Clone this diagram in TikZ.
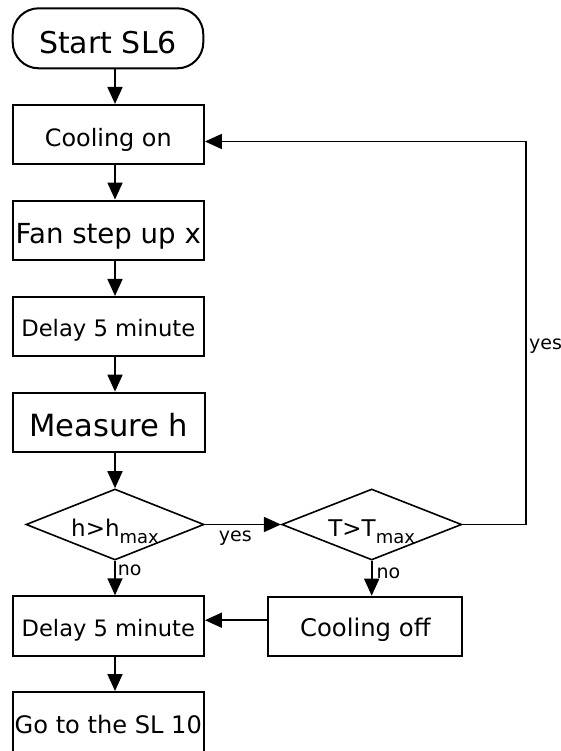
\documentclass[tikz,border=0pt]{standalone}
\usepackage{fontspec}
\setmainfont{DejaVu Sans}
\usetikzlibrary{shapes.geometric,arrows.meta,positioning}

\tikzset{
  fsz/.style={font=\fontsize{#1}{#1}\selectfont},
  flow/.style={line width=1.8pt,-{Triangle[length=17pt,width=15pt]}},
  box/.style={draw,line width=2pt,minimum width=191.3pt,minimum height=59.5pt,inner sep=0pt,text depth=0pt},
  term/.style={box,rounded corners=26pt,minimum width=190.6pt,minimum height=60pt},
  decision/.style={draw,diamond,line width=1.6pt,aspect=2.5,minimum width=178pt,minimum height=71pt,
    inner sep=0pt,text height=23pt,text depth=0pt,fsz=23},
  lbl/.style={fsz=19,inner sep=0pt},
}
\newcommand{\lowidx}[1]{\raisebox{-7pt}[0pt][0pt]{\fontsize{18}{18}\selectfont #1}}

\begin{document}
\begin{tikzpicture}[x=1pt,y=-1pt]
\fill[white] (0,0) rectangle (561,751);
\clip (0,0) rectangle (561,751);
\coordinate (spine) at (115,0);

% main column
\node[term,fsz=30,text height=31pt] (start) at (108,38.3) {Start SL6};
\node[box,fsz=23.9,text height=24pt] (con) at (108.3,134.7) {Cooling on};
\node[box,fsz=27.6,text height=26pt] (fan) at (108.3,230.3) {Fan step up x};
\node[box,fsz=22.7,text height=20pt] (dly1) at (108.3,326.7) {Delay 5 minute};
\node[box,fsz=30.6,text height=28.6pt,minimum width=192.3pt] (meas) at (108.8,422.4) {Measure h};
\node[decision] (hchk) at (115,524.5) {h>h\lowidx{max}};
\node[box,fsz=22.6,text height=21.4pt] (dly2) at (108.3,626) {Delay 5 minute};
\node[box,fsz=24.1,text height=18pt,minimum height=64pt] (go) at (108.3,724) {Go to the SL 10};

% temperature branch
\node[decision,minimum width=180pt] (tchk) at (371.7,524.5) {T>T\lowidx{max}};
\node[box,fsz=24.3,text height=21pt,minimum width=194pt,minimum height=59pt] (coff) at (365.3,626.2) {Cooling off};

\coordinate (loopT) at (525.7,141.5);
\coordinate (loopB) at (loopT |- tchk.east);

\draw[flow] (start.south -| spine) -- (con.north -| spine);
\draw[flow] (con.south -| spine) -- (fan.north -| spine);
\draw[flow] (fan.south -| spine) -- (dly1.north -| spine);
\draw[flow] (dly1.south -| spine) -- (meas.north -| spine);
\draw[flow] (meas.south -| spine) -- (hchk.north);
\draw[flow] (hchk.east) -- node[lbl,below=5pt,pos=0.4] {yes} (tchk.west);
\draw[flow] (hchk.south) -- node[lbl,below right=3pt and 2pt,pos=0] {no} (dly2.north -| spine);
\draw[flow] (tchk.south) -- node[lbl,below right=6pt and 4pt,pos=0] {no} (coff.north -| tchk.south);
\draw[flow] ([yshift=6pt]coff.west) -- ([yshift=6pt]coff.west -| dly2.east);
\draw[flow] (tchk.east) -- (loopB) -- node[lbl,right=2.5pt,pos=0.465] {yes} (loopT) -- (loopT -| con.east);
\draw[flow] (dly2.south -| spine) -- (go.north -| spine);
\end{tikzpicture}
\end{document}
